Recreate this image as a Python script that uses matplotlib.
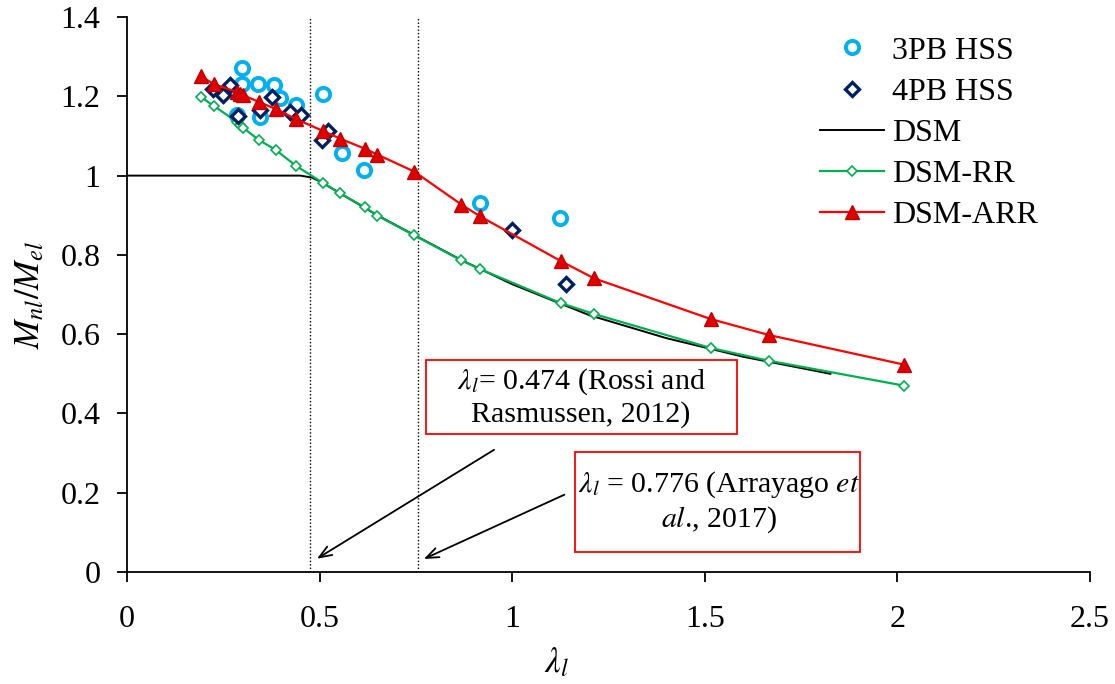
import numpy as np
import matplotlib
matplotlib.use('Agg')
import matplotlib.pyplot as plt
from matplotlib.patches import Rectangle

plt.rcParams['font.family'] = ['Liberation Serif', 'DejaVu Serif']
plt.rcParams['mathtext.fontset'] = 'stix'

# 시험 결과 (3PB / 4PB)
x_3pb = [0.298, 0.298, 0.339, 0.381, 0.396, 0.440, 0.285, 0.345, 0.510, 0.557, 0.614, 0.917, 1.124]
y_3pb = [1.271, 1.231, 1.231, 1.229, 1.196, 1.178, 1.153, 1.148, 1.206, 1.058, 1.013, 0.930, 0.892]

x_4pb = [0.223, 0.249, 0.267, 0.288, 0.345, 0.376, 0.422, 0.453, 0.505, 0.523, 1.000, 1.140]
y_4pb = [1.219, 1.204, 1.229, 1.151, 1.166, 1.198, 1.161, 1.153, 1.090, 1.113, 0.862, 0.726]

# DSM 곡선
x_dsm = [0.0, 0.20, 0.40, 0.45, 0.48, 0.508, 0.55, 0.65, 0.75, 0.87, 1.00, 1.20, 1.40, 1.60, 1.826]
y_dsm = [1.0, 1.0, 1.0, 1.0, 0.995, 0.982, 0.957, 0.900, 0.848, 0.786, 0.726, 0.648, 0.590, 0.543, 0.500]

# DSM-RR / DSM-ARR (같은 lambda 위치)
x_rr = [0.192, 0.225, 0.285, 0.293, 0.301, 0.342, 0.386, 0.438, 0.508, 0.554,
        0.617, 0.650, 0.746, 0.868, 0.917, 1.127, 1.212, 1.516, 1.666, 2.018]
y_rr = [1.198, 1.176, 1.136, 1.128, 1.121, 1.090, 1.065, 1.025, 0.982, 0.955,
        0.920, 0.899, 0.849, 0.786, 0.764, 0.678, 0.651, 0.565, 0.533, 0.470]
y_arr = [1.251, 1.231, 1.211, 1.207, 1.203, 1.186, 1.168, 1.143, 1.113, 1.093,
         1.068, 1.053, 1.010, 0.927, 0.897, 0.784, 0.741, 0.638, 0.598, 0.523]

# 기준 세장비
lam_lines = [0.476, 0.755]

fig = plt.figure(figsize=(11.15, 6.84), dpi=100)
ax = fig.add_axes([0.1139, 0.1637, 0.8637, 0.8114])

ax.plot(x_3pb, y_3pb, linestyle='none', marker='o', markersize=9.5,
        markerfacecolor='white', markeredgecolor='#00B0F0', markeredgewidth=2.8,
        label='3PB HSS', zorder=3)
ax.plot(x_4pb, y_4pb, linestyle='none', marker='D', markersize=7,
        markerfacecolor='white', markeredgecolor='#002060', markeredgewidth=2.4,
        label='4PB HSS', zorder=4)
ax.plot(x_dsm, y_dsm, color='black', linewidth=1.4, label='DSM', zorder=2)
ax.plot(x_rr, y_rr, color='#00B050', linewidth=1.6, marker='D', markersize=5.5,
        markerfacecolor='white', markeredgecolor='#00B050', markeredgewidth=1.2,
        label='DSM-RR', zorder=3)
ax.plot(x_rr, y_arr, color='#FF0000', linewidth=1.6, marker='^',
        markersize=10, markerfacecolor='#E00000', markeredgecolor='#C00000',
        label='DSM-ARR', zorder=5)

for xv in lam_lines:
    ax.plot([xv, xv], [0, 1.4], color='black', linestyle=(0, (1, 1.5)),
            linewidth=1.0, zorder=1)

ax.set_xlim(0, 2.5)
ax.set_ylim(0, 1.4)
ax.set_xticks(np.arange(0, 2.51, 0.5))
ax.set_xticklabels(['0', '0.5', '1', '1.5', '2', '2.5'])
ax.set_yticks(np.arange(0, 1.41, 0.2))
ax.set_yticklabels(['0', '0.2', '0.4', '0.6', '0.8', '1', '1.2', '1.4'])
ax.spines['top'].set_visible(False)
ax.spines['right'].set_visible(False)
ax.spines['left'].set_linewidth(1.3)
ax.spines['bottom'].set_linewidth(1.3)
ax.tick_params(axis='both', direction='out', length=7, width=1.3, labelsize=23)
ax.tick_params(axis='x', pad=17)
ax.tick_params(axis='y', pad=12)

ax.set_xlabel(r'$\lambda_l$', fontsize=25)
ax.xaxis.label.set_va('center')
ax.xaxis.set_label_coords(0.4465, -0.165)
ax.set_ylabel(r'$M_{nl}/M_{el}$', fontsize=25)
ax.yaxis.label.set_va('center')
ax.yaxis.set_label_coords(-0.100, 0.5)

# 주석 박스
ax.add_patch(Rectangle((0.775, 0.349), 0.808, 0.186, facecolor='white',
                       edgecolor='#FF0000', linewidth=1.3, zorder=6))
ax.text(1.179, 0.440, '$\\lambda_l$= 0.474 (Rossi and\nRasmussen, 2012)',
        fontsize=21.5, ha='center', va='center', multialignment='center', zorder=7)
ax.add_patch(Rectangle((1.163, 0.050), 0.741, 0.254, facecolor='white',
                       edgecolor='#FF0000', linewidth=1.3, zorder=6))
ax.text(1.537, 0.177, '$\\lambda_l$ = 0.776 (Arrayago $\\it{et}$\n$\\it{al}$., 2017)',
        fontsize=21.5, ha='center', va='center', multialignment='center', zorder=7)

arrow = dict(arrowstyle='->,head_length=0.9,head_width=0.35', color='black', linewidth=1.3)
ax.annotate('', xy=(0.487, 0.030), xytext=(0.959, 0.312), arrowprops=arrow)
ax.annotate('', xy=(0.764, 0.030), xytext=(1.142, 0.198), arrowprops=arrow)

ax.legend(loc='upper right', bbox_to_anchor=(0.966, 1.0), frameon=False,
          fontsize=23, handlelength=2.0, handletextpad=0.25, labelspacing=0.37,
          borderaxespad=0.2)

fig.savefig('out.png', dpi=100)
